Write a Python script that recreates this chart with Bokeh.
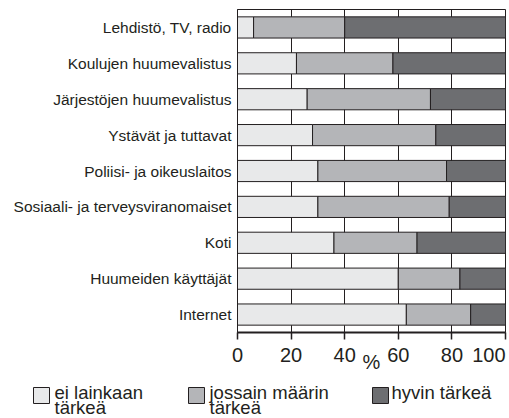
from bokeh.plotting import figure
from bokeh.layouts import column
from bokeh.models import ColumnDataSource, FactorRange, Range1d, FixedTicker
from bokeh.core.properties import value
from bokeh.embed import file_html
from bokeh.resources import INLINE

categories = ["Lehdistö, TV, radio", "Koulujen huumevalistus", "Järjestöjen huumevalistus",
              "Ystävät ja tuttavat", "Poliisi- ja oikeuslaitos", "Sosiaali- ja terveysviranomaiset",
              "Koti", "Huumeiden käyttäjät", "Internet"]
ei_lainkaan = [6, 22, 26, 28, 30, 30, 36, 60, 63]
jossain = [34, 36, 46, 46, 48, 49, 31, 23, 24]
hyvin = [60, 42, 28, 26, 22, 21, 33, 17, 13]
x_ticks = [0, 20, 40, 60, 80, 100]
x_title = "%"
series_names = ["ei lainkaan\ntärkeä", "jossain määrin\ntärkeä", "hyvin tärkeä"]
colors = ["#e8e9ea", "#b4b5b8", "#6d6e71"]

FONT = "Liberation Sans"
INK = "#231f20"
W = 509
LEFT, RIGHT = 237, 4          # frame borders (px)
FRAME_W = W - LEFT - RIGHT
H1, H2 = 341, 77

source = ColumnDataSource(dict(cat=categories, ei=ei_lainkaan, jo=jossain, hy=hyvin))

p = figure(width=W, height=H1, output_backend="svg", toolbar_location=None, title=None,
           y_range=FactorRange(*list(reversed(categories))), x_range=Range1d(0, 100),
           min_border_left=LEFT, min_border_right=RIGHT, min_border_top=9, min_border_bottom=9)
p.frame_align = False
p.outline_line_color = INK
p.outline_line_width = 1

renderers = p.hbar_stack(["ei", "jo", "hy"], y="cat", height=0.59, color=colors,
                         line_color=INK, line_width=1, source=source)

# x axis: line and tick marks (labels drawn in the strip below)
p.xaxis.ticker = FixedTicker(ticks=x_ticks)
p.xaxis.axis_line_color = INK
p.xaxis.axis_line_width = 2
p.xaxis.major_tick_out = 7
p.xaxis.major_tick_in = 0
p.xaxis.major_tick_line_color = INK
p.xaxis.major_tick_line_width = 1.5
p.xaxis.minor_tick_line_color = None
p.xaxis.major_label_text_color = None
p.xaxis.major_label_text_font_size = "1px"
p.xaxis.major_label_standoff = 0

# y axis
p.yaxis.axis_line_color = INK
p.yaxis.major_tick_line_color = None
p.yaxis.major_tick_out = 0
p.yaxis.minor_tick_line_color = None
p.yaxis.major_label_text_font = FONT
p.yaxis.major_label_text_font_size = "15.5px"
p.yaxis.major_label_text_color = INK
p.yaxis.major_label_standoff = 6

p.xgrid.grid_line_color = INK
p.xgrid.grid_line_width = 1
p.ygrid.grid_line_color = None

# bottom strip: tick labels, unit and legend, on the same x scale as the chart
span = 100.0
bp = figure(width=W, height=H2, output_backend="svg", toolbar_location=None, title=None,
            x_range=Range1d(-LEFT * span / FRAME_W, span + RIGHT * span / FRAME_W),
            y_range=Range1d(0, H2),
            x_axis_location=None, y_axis_location=None,
            min_border_left=0, min_border_right=0, min_border_top=0, min_border_bottom=0)
bp.frame_align = False
bp.outline_line_color = None
bp.grid.grid_line_color = None


def px(v):
    """strip pixel column -> value on the chart's x scale"""
    return (v - LEFT) * span / FRAME_W


aligns = ["center"] * (len(x_ticks) - 1) + ["right"]
tick_src = ColumnDataSource(dict(x=x_ticks, y=[64] * len(x_ticks),
                                 t=[str(t) for t in x_ticks], a=aligns))
bp.text(x="x", y="y", text="t", text_align="a", text_baseline="alphabetic",
        text_font=value(FONT), text_font_size="20px", text_color=INK, source=tick_src)
bp.text(x=[50], y=[57], text=[x_title], text_align="center", text_baseline="alphabetic",
        text_font=value(FONT), text_font_size="20px", text_color=INK)

# legend (boxes + labels)
box_px = [41, 196, 380]
text_px = [54, 209, 391]
bp.rect(x=[px(v) for v in box_px], y=[23] * 3, width=16, height=16,
        width_units="screen", height_units="screen",
        fill_color=colors, line_color=INK, line_width=1)
first = [n.split("\n")[0] for n in series_names]
second = [n.split("\n")[1] if "\n" in n else "" for n in series_names]
bp.text(x=[px(v) for v in text_px], y=[26] * 3, text=first, text_align="left",
        text_baseline="alphabetic", text_font=value(FONT), text_font_size="18.5px",
        text_color=INK)
sec_x = [px(v) for v, s in zip(text_px, second) if s]
bp.text(x=sec_x, y=[11.5] * len(sec_x), text=[s for s in second if s], text_align="left",
        text_baseline="alphabetic", text_font=value(FONT), text_font_size="18.5px",
        text_color=INK)

open("out.html", "w").write(file_html(column(p, bp, spacing=0), INLINE))
